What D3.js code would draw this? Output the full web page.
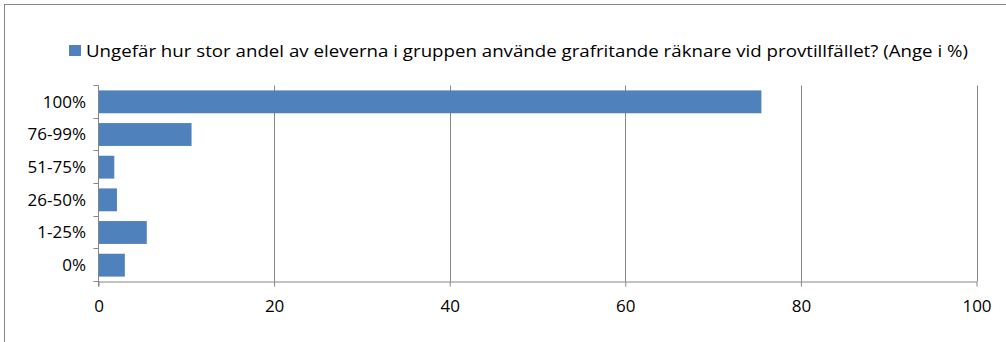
<!DOCTYPE html>
<html>
<head>
<meta charset="utf-8">
<script src="https://cdn.jsdelivr.net/npm/d3@7"></script>
<style>
  html, body { margin: 0; padding: 0; background: #fff; }
  svg { display: block; }
  text { font-family: "Open Sans", "Noto Sans", "Liberation Sans", sans-serif; fill: #000; }
</style>
</head>
<body>
<svg id="chart" width="1006" height="342"></svg>
<script>
// Answer categories, top to bottom
const categories = ["100%", "76-99%", "51-75%", "26-50%", "1-25%", "0%"];
// Share of respondents per category (%)
const values = [75.5, 10.6, 1.8, 2.1, 5.5, 3.0];
// Horizontal axis ticks
const xTicks = [0, 20, 40, 60, 80, 100];
const seriesName = "Ungefär hur stor andel av eleverna i gruppen använde grafritande räknare vid provtillfället? (Ange i %)";

(function () {
  const svg = d3.select("#chart");
  const barColor = "#4f81bd";
  const gridColor = "#868686";
  const labelSize = 17;

  // Outer chart frame
  svg.append("rect")
    .attr("x", 4.5).attr("y", 4.5)
    .attr("width", 1010).attr("height", 350)
    .attr("fill", "none").attr("stroke", gridColor).attr("stroke-width", 1);

  const plotLeft = 98.5, plotRight = 976.5, plotTop = 85.5, plotBottom = 281.5;

  const x = d3.scaleLinear().domain([0, 100]).range([plotLeft, plotRight]);
  const y = d3.scaleBand().domain(categories).range([plotTop, plotBottom])
    .paddingInner(0.3).paddingOuter(0.15);

  // Vertical gridlines
  svg.append("g").selectAll("line")
    .data(xTicks.slice(1))
    .join("line")
    .attr("x1", d => Math.round(x(d)) + 0.5).attr("x2", d => Math.round(x(d)) + 0.5)
    .attr("y1", plotTop).attr("y2", plotBottom)
    .attr("stroke", gridColor).attr("stroke-width", 1);

  // Bars
  svg.append("g").selectAll("rect")
    .data(categories.map((c, i) => ({ c, v: values[i] })))
    .join("rect")
    .attr("x", x(0))
    .attr("y", d => y(d.c))
    .attr("width", d => x(d.v) - x(0))
    .attr("height", y.bandwidth())
    .attr("fill", barColor);

  // Horizontal axis
  const xAxis = svg.append("g")
    .attr("transform", `translate(0,${plotBottom})`)
    .call(d3.axisBottom(x).tickValues(xTicks).tickSize(5).tickPadding(13).tickSizeOuter(0));
  xAxis.select(".domain").attr("stroke", gridColor);
  xAxis.selectAll(".tick line").attr("stroke", gridColor);
  xAxis.selectAll(".tick text").attr("font-size", labelSize)
    .style("font-family", "\"Open Sans\", \"Noto Sans\", sans-serif").attr("fill", "#000");

  // Vertical axis with ticks between categories
  const n = categories.length;
  const boundaries = d3.range(n + 1).map(i => plotTop + i * (plotBottom - plotTop) / n);
  const yg = svg.append("g");
  yg.append("line")
    .attr("x1", plotLeft).attr("x2", plotLeft).attr("y1", plotTop).attr("y2", plotBottom + 5)
    .attr("stroke", gridColor);
  yg.selectAll("line.tk")
    .data(boundaries)
    .join("line").attr("class", "tk")
    .attr("x1", plotLeft - 5).attr("x2", plotLeft)
    .attr("y1", d => Math.round(d - 0.5) + 0.5).attr("y2", d => Math.round(d - 0.5) + 0.5)
    .attr("stroke", gridColor);
  yg.selectAll("text")
    .data(categories)
    .join("text")
    .attr("x", 86)
    .attr("y", d => y(d) + y.bandwidth() / 2)
    .attr("dy", "0.35em")
    .attr("text-anchor", "end")
    .attr("font-size", labelSize)
    .text(d => d);

  // Legend
  const legend = svg.append("g");
  legend.append("rect")
    .attr("x", 69).attr("y", 45).attr("width", 12).attr("height", 11)
    .attr("fill", barColor);
  legend.append("text")
    .attr("x", 86).attr("y", 57)
    .attr("font-size", 16.5)
    .attr("textLength", 882)
    .attr("lengthAdjust", "spacingAndGlyphs")
    .text(seriesName);
})();
</script>
</body>
</html>
